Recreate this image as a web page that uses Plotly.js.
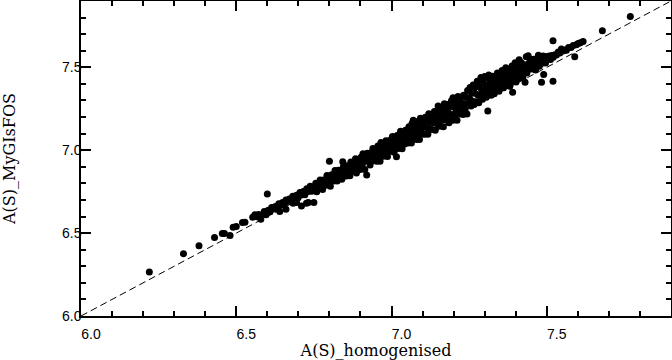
<!DOCTYPE html>
<html>
<head>
<meta charset="utf-8">
<script src="https://cdn.plot.ly/plotly-3.0.1.min.js"></script>
<style>
  html, body { margin: 0; padding: 0; background: #fff; }
  #chart { width: 672px; height: 360px; }
</style>
</head>
<body>
<div id="chart"></div>
<script>
// A(S) from the homogenised sample (x) against A(S) from MyGIsFOS (y)
var homX = [
  6.22, 6.33, 6.38, 6.43, 6.455, 6.462, 6.48, 6.49, 6.50, 6.52, 6.528, 6.553, 6.56,
  6.566, 6.572, 6.579, 6.585, 6.59, 6.596, 6.60, 6.603, 6.609, 6.614, 6.62, 6.626, 6.631, 6.637,
  6.64, 6.643, 6.649, 6.654, 6.66, 6.66, 6.666, 6.671, 6.677, 6.682, 6.683, 6.688, 6.694, 6.694,
  6.699, 6.705, 6.71, 6.71, 6.716, 6.721, 6.726, 6.727, 6.732, 6.733, 6.738, 6.743, 6.748, 6.75,
  6.752, 6.756, 6.759, 6.763, 6.767, 6.77, 6.774, 6.778, 6.781, 6.785, 6.789, 6.792, 6.796, 6.80,
  6.80, 6.803, 6.807, 6.811, 6.814, 6.818, 6.822, 6.825, 6.829, 6.833, 6.836, 6.84, 6.843, 6.845, 6.848,
  6.851, 6.854, 6.857, 6.86, 6.863, 6.866, 6.869, 6.872, 6.875, 6.878, 6.881, 6.884, 6.887, 6.89,
  6.893, 6.896, 6.899, 6.902, 6.905, 6.908, 6.911, 6.914, 6.917, 6.92, 6.922, 6.925, 6.928, 6.931,
  6.934, 6.937, 6.94, 6.943, 6.946, 6.949,
  6.951, 6.953, 6.956, 6.958, 6.961, 6.963, 6.966, 6.969, 6.971, 6.974, 6.976, 6.979, 6.982, 6.984,
  6.987, 6.99, 6.992, 6.995, 6.998, 7.00, 7.003, 7.005, 7.008, 7.01, 7.013, 7.016, 7.018, 7.021,
  7.024, 7.026, 7.029, 7.032, 7.034, 7.037, 7.04, 7.042, 7.045, 7.048,
  7.051, 7.053, 7.056, 7.058, 7.061, 7.064, 7.066, 7.069, 7.07, 7.072, 7.074, 7.077, 7.08, 7.082,
  7.085, 7.088, 7.09, 7.093, 7.096, 7.098, 7.101, 7.104, 7.106, 7.109, 7.112, 7.114, 7.117, 7.12,
  7.122, 7.125, 7.128, 7.13, 7.133, 7.136, 7.138, 7.141, 7.144, 7.146, 7.15, 7.149,
  7.152, 7.154, 7.157, 7.159, 7.162, 7.164, 7.167, 7.17, 7.172, 7.175, 7.177, 7.18, 7.182, 7.185,
  7.188, 7.19, 7.193, 7.195, 7.198, 7.198, 7.20, 7.203, 7.206, 7.208, 7.211, 7.214, 7.216, 7.219,
  7.222, 7.224, 7.227, 7.23, 7.232, 7.235, 7.237, 7.24, 7.243, 7.245, 7.248,
  7.251, 7.253, 7.256, 7.258, 7.261, 7.263, 7.266, 7.268, 7.271, 7.273, 7.276, 7.278, 7.281, 7.283,
  7.286, 7.288, 7.29, 7.293, 7.295, 7.298, 7.30, 7.303, 7.305, 7.308, 7.31, 7.311, 7.313, 7.316,
  7.318, 7.321, 7.323, 7.326, 7.328, 7.331, 7.333, 7.336, 7.338, 7.341, 7.343, 7.346, 7.348,
  7.351, 7.353, 7.356, 7.358, 7.361, 7.363, 7.366, 7.368, 7.371, 7.373, 7.376, 7.378, 7.381, 7.383,
  7.386, 7.388, 7.39, 7.391, 7.393, 7.396, 7.398, 7.401, 7.403, 7.406, 7.408, 7.411, 7.413, 7.416,
  7.418, 7.421, 7.423, 7.426, 7.43, 7.43, 7.434, 7.436, 7.44, 7.441, 7.444, 7.447, 7.449,
  7.452, 7.455, 7.458, 7.461, 7.464, 7.467, 7.47, 7.473, 7.476, 7.479, 7.483, 7.484, 7.488, 7.49,
  7.492, 7.496, 7.50, 7.504, 7.508, 7.512, 7.516, 7.52, 7.52, 7.521, 7.526, 7.531, 7.537, 7.542,
  7.547, 7.552, 7.558, 7.563, 7.57, 7.578, 7.585, 7.59, 7.595, 7.601, 7.608, 7.617, 7.679, 7.769
];
var mygY = [
  6.265, 6.376, 6.424, 6.474, 6.498, 6.498, 6.486, 6.536, 6.54, 6.564, 6.566, 6.596, 6.61,
  6.598, 6.612, 6.584, 6.61, 6.63, 6.611, 6.736, 6.638, 6.629, 6.654, 6.645, 6.661, 6.646, 6.677,
  6.63, 6.668, 6.684, 6.674, 6.644, 6.70, 6.691, 6.706, 6.692, 6.722, 6.68, 6.713, 6.684, 6.729,
  6.714, 6.745, 6.664, 6.73, 6.751, 6.731, 6.68, 6.767, 6.684, 6.753, 6.783, 6.753, 6.778, 6.684,
  6.772, 6.801, 6.749, 6.793, 6.772, 6.82, 6.789, 6.763, 6.821, 6.81, 6.789, 6.847, 6.806, 6.934,
  6.835, 6.783, 6.852, 6.831, 6.814, 6.878, 6.852, 6.815, 6.879, 6.848, 6.871, 6.825, 6.93, 6.90, 6.853,
  6.871, 6.844, 6.907, 6.86, 6.898, 6.846, 6.929, 6.887, 6.915, 6.873, 6.906, 6.949, 6.862, 6.935,
  6.903, 6.926, 6.884, 6.957, 6.91, 6.978, 6.931, 6.884, 6.957, 6.85, 6.982, 6.935, 6.958, 6.911,
  6.984, 6.937, 7.01, 6.968, 6.936, 6.994,
  6.981, 6.933, 7.026, 6.968, 7.011, 6.933, 7.046, 6.989, 7.011, 6.964, 7.036, 6.979, 7.057, 7.014,
  6.962, 7.04, 7.007, 7.06, 6.993, 7.035, 7.083, 7.015, 6.988, 7.065, 7.038, 6.96, 7.088, 7.011,
  7.069, 7.031, 7.114, 7.052, 7.009, 7.097, 7.075, 7.037, 7.12, 7.063,
  7.091, 7.043, 7.141, 7.078, 7.121, 7.044, 7.161, 7.099, 7.18, 7.077, 7.144, 7.122, 7.065, 7.172,
  7.10, 7.143, 7.065, 7.193, 7.131, 7.098, 7.176, 7.154, 7.096, 7.199, 7.137, 7.179, 7.097, 7.22,
  7.132, 7.17, 7.208, 7.125, 7.193, 7.166, 7.233, 7.121, 7.214, 7.161, 7.266, 7.199,
  7.237, 7.144, 7.197, 7.259, 7.182, 7.229, 7.142, 7.28, 7.207, 7.25, 7.182, 7.275, 7.232, 7.165,
  7.268, 7.215, 7.298, 7.185, 7.316, 7.18, 7.26, 7.218, 7.296, 7.248, 7.181, 7.324, 7.286, 7.219,
  7.317, 7.254, 7.282, 7.215, 7.332, 7.28, 7.247, 7.32, 7.218, 7.36, 7.283,
  7.316, 7.378, 7.266, 7.348, 7.296, 7.393, 7.276, 7.343, 7.381, 7.293, 7.416, 7.333, 7.286, 7.383,
  7.326, 7.438, 7.365, 7.308, 7.415, 7.348, 7.445, 7.393, 7.32, 7.438, 7.236, 7.371, 7.453, 7.346,
  7.418, 7.331, 7.403, 7.446, 7.373, 7.341, 7.438, 7.401, 7.363, 7.466, 7.428, 7.356, 7.398,
  7.451, 7.383, 7.481, 7.418, 7.376, 7.453, 7.411, 7.498, 7.391, 7.448, 7.486, 7.413, 7.386, 7.478,
  7.441, 7.508, 7.35, 7.416, 7.473, 7.441, 7.528, 7.411, 7.503, 7.466, 7.433, 7.546, 7.488, 7.451,
  7.528, 7.471, 7.438, 7.516, 7.41, 7.49, 7.564, 7.466, 7.57, 7.521, 7.489, 7.547, 7.509,
  7.522, 7.49, 7.548, 7.511, 7.484, 7.542, 7.515, 7.573, 7.506, 7.539, 7.41, 7.524, 7.568, 7.456,
  7.542, 7.526, 7.565, 7.549, 7.568, 7.547, 7.571, 7.66, 7.416, 7.561, 7.576, 7.574, 7.592, 7.587,
  7.61, 7.598, 7.604, 7.603, 7.62, 7.62, 7.631, 7.564, 7.636, 7.644, 7.648, 7.656, 7.72, 7.806
];

// one-to-one line across the axis range
var diagX = [6.0, 7.9];
var diagY = [6.0, 7.9];

var axisRange = [6.0, 7.9];
var tickFont = {family: 'Liberation Sans, Arial, sans-serif', size: 14, color: '#000'};
var titleFont = {family: 'DejaVu Serif, serif', size: 16, color: '#000'};

var points = {
  x: homX,
  y: mygY,
  mode: 'markers',
  type: 'scatter',
  marker: {color: '#000', size: 7},
  hoverinfo: 'skip'
};
var diag = {
  x: diagX,
  y: diagY,
  mode: 'lines',
  type: 'scatter',
  line: {color: '#000', width: 1, dash: '7px,4px'},
  hoverinfo: 'skip'
};

function axis(title) {
  return {
    range: axisRange,
    tick0: 6.0,
    dtick: 0.5,
    tickformat: '.1f',
    ticks: 'inside',
    ticklen: 10,
    tickwidth: 1.5,
    tickcolor: 'black',
    minor: {dtick: 0.1, ticks: 'inside', ticklen: 5, tickwidth: 1.5, tickcolor: 'black', showgrid: false},
    showline: true,
    linecolor: 'black',
    linewidth: 1.5,
    mirror: 'allticks',
    showgrid: false,
    zeroline: false,
    tickfont: tickFont,
    title: {text: title, font: titleFont}
  };
}

var layout = {
  width: 672,
  height: 360,
  margin: {l: 81, r: 1, t: 1, b: 44},
  paper_bgcolor: 'white',
  plot_bgcolor: 'white',
  showlegend: false,
  xaxis: axis('A(S)_homogenised'),
  yaxis: axis('A(S)_MyGIsFOS')
};
// x labels sit just right of their tick in the original
layout.xaxis.ticklabelshift = 10;
layout.xaxis.ticklabelstandoff = 4;
layout.yaxis.ticklabelstandoff = -5;
layout.xaxis.title.standoff = 3;
layout.yaxis.title.standoff = 42;

Plotly.newPlot('chart', [diag, points], layout, {displayModeBar: false});
</script>
</body>
</html>
